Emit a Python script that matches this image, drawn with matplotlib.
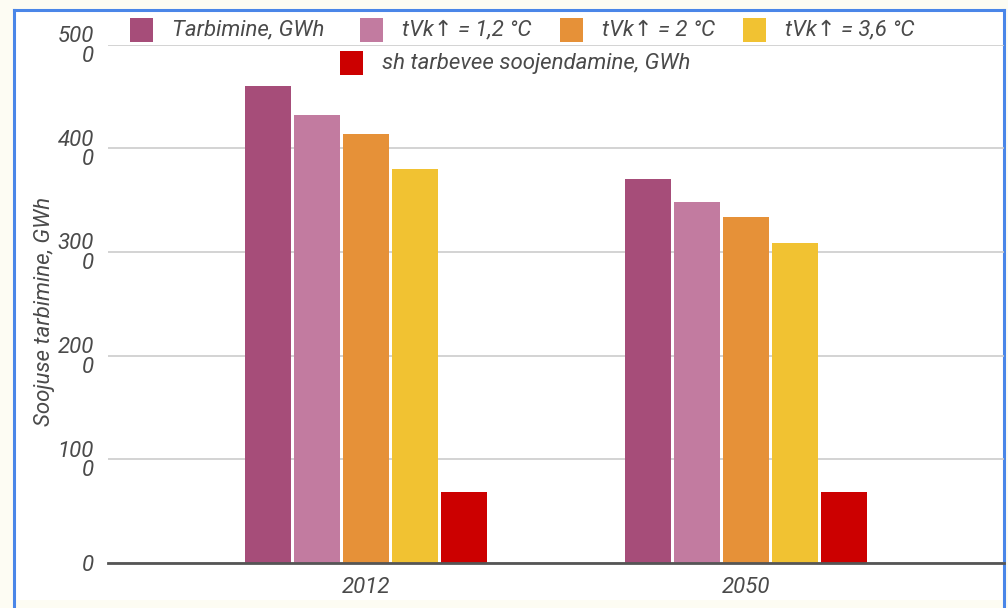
import matplotlib
matplotlib.use("Agg")
import matplotlib.pyplot as plt
from matplotlib.patches import Rectangle
from matplotlib.lines import Line2D
import numpy as np

years = ["2012", "2050"]
series_names = ["Tarbimine, GWh", "tVk↑ = 1,2 °C", "tVk↑ = 2 °C", "tVk↑ = 3,6 °C",
                "sh tarbevee soojendamine, GWh"]
tarbimine = [4600, 3700]
tvk_12 = [4320, 3485]
tvk_2 = [4140, 3340]
tvk_36 = [3800, 3085]
sh_tarbevesi = [685, 685]
y_ticks = [0, 1000, 2000, 3000, 4000, 5000]
y_tick_labels = ["0", "100\n0", "200\n0", "300\n0", "400\n0", "500\n0"]

colors = ["#a64d79", "#c27ba0", "#e69138", "#f1c232", "#cc0000"]
values = [tarbimine, tvk_12, tvk_2, tvk_36, sh_tarbevesi]

plt.rcParams["font.family"] = ["Roboto", "DejaVu Sans"]
text_col = "#4a4a4a"
fs = 16

W, H = 1008, 608
fig = plt.figure(figsize=(W / 100, H / 100), dpi=100, facecolor="#fdfcf3")

# screenshot frame (white panel with blue edge)
fig.patches.append(Rectangle((14 / W, 8 / H), 990 / W, 590 / H, transform=fig.transFigure,
                             facecolor="white", edgecolor="none", zorder=0))
for xs, ys in [([14, 14], [608, 10]), ([14, 1004], [10, 10]), ([1004, 1004], [10, 608])]:
    fig.lines.append(Line2D([v / W for v in xs], [1 - v / H for v in ys], transform=fig.transFigure,
                            color="#4a86e8", lw=2.2, zorder=1))

ax = fig.add_axes([108 / W, (H - 563) / H, (1004 - 108) / W, (563 - 44.6) / H])
ax.set_zorder(2)
ax.set_facecolor("none")

x = np.arange(len(years))
step = 49 / 380
width = 46 / 380
for i, (vals, c) in enumerate(zip(values, colors)):
    ax.bar(x + (i - 2) * step, vals, width=width, color=c, zorder=2)

ax.set_xlim(-258 / 380, 1 + 258 / 380)
ax.set_ylim(0, 5000)
ax.set_yticks(y_ticks)
ax.set_yticklabels(y_tick_labels, fontsize=fs, style="italic", color=text_col,
                   linespacing=0.9)
ax.set_xticks(x)
ax.set_xticklabels(years, fontsize=fs, style="italic", color=text_col)
ax.tick_params(axis="both", length=0)
ax.tick_params(axis="y", pad=10)
ax.tick_params(axis="x", pad=10)
ax.grid(axis="y", color="#cccccc", lw=1.2, zorder=1)
ax.set_axisbelow(True)
for s in ["top", "right", "left"]:
    ax.spines[s].set_visible(False)
ax.spines["bottom"].set_color("#555555")
ax.spines["bottom"].set_linewidth(2)
ax.spines["bottom"].set_zorder(3)

fig.text(45 / W, 1 - 311 / H, "Soojuse tarbimine, GWh", rotation=90, ha="center", va="center",
         fontsize=fs, style="italic", color=text_col)

# legend, two centred rows as in the original
legend_pos = [(130, 30), (360, 30), (560, 30), (743, 30), (340, 63)]
for (lx, ly), name, c in zip(legend_pos, series_names, colors):
    fig.patches.append(Rectangle((lx / W, 1 - (ly + 12) / H), 23 / W, 24 / H,
                                 transform=fig.transFigure, facecolor=c, edgecolor="none", zorder=3))
    fig.text((lx + 42) / W, 1 - ly / H, name, ha="left", va="center", fontsize=fs,
             style="italic", color=text_col)

fig.savefig("out.png", dpi=100, facecolor=fig.get_facecolor())
